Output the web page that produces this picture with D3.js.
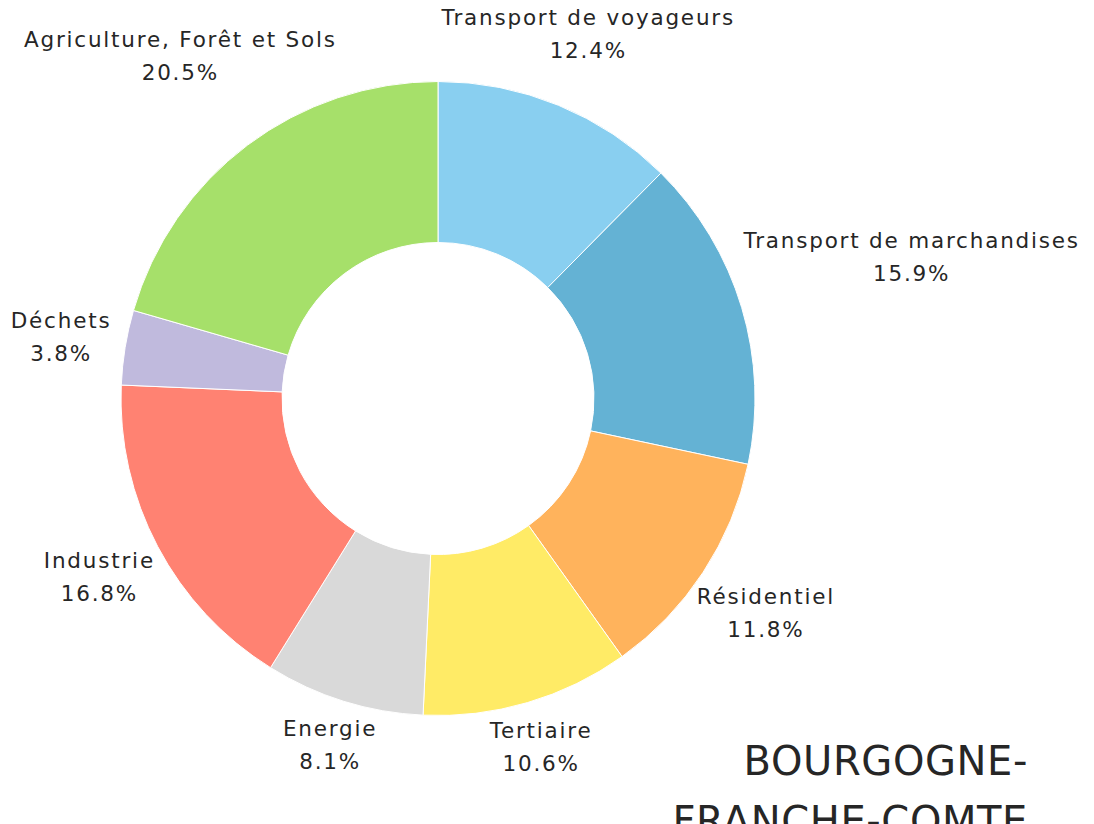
<!DOCTYPE html>
<html>
<head>
<meta charset="utf-8">
<script src="https://cdn.jsdelivr.net/npm/d3@7"></script>
<style>
  body { margin: 0; background: #fff; overflow: hidden; }
  text { font-family: "DejaVu Sans", sans-serif; fill: #262626; }
</style>
</head>
<body>
<script>
const width = 1094;
const height = 824;

const categories = [
  "Transport de voyageurs",
  "Transport de marchandises",
  "Résidentiel",
  "Tertiaire",
  "Energie",
  "Industrie",
  "Déchets",
  "Agriculture, Forêt et Sols"
];
const values = [12.4, 15.9, 11.8, 10.6, 8.1, 16.8, 3.8, 20.5];
const colors = ["#89cff0", "#64b2d4", "#ffb35c", "#ffeb66", "#d9d9d9", "#ff8272", "#c0badd", "#a6e06a"];
const titleLines = ["BOURGOGNE-", "FRANCHE-COMTE"];

const cx = 438, cy = 398.5;
const outerR = 317, innerR = 156;

const svg = d3.select("body")
  .append("svg")
  .attr("width", width)
  .attr("height", height);

const data = categories.map((c, i) => ({ name: c, value: values[i], color: colors[i] }));

const pie = d3.pie()
  .value(d => d.value)
  .sort(null);

const arc = d3.arc()
  .innerRadius(innerR)
  .outerRadius(outerR);

const arcs = pie(data);

const g = svg.append("g")
  .attr("transform", `translate(${cx},${cy})`);

g.selectAll("path")
  .data(arcs)
  .enter()
  .append("path")
  .attr("d", arc)
  .attr("fill", d => d.data.color)
  .attr("stroke", "#fff")
  .attr("stroke-width", 1);

// labels sit on the mid-angle ray, pushed out by the size of their box
const labels = g.selectAll(".label")
  .data(arcs)
  .enter()
  .append("text")
  .attr("class", "label")
  .attr("text-anchor", "middle")
  .style("font-size", "21.5px")
  .style("letter-spacing", "1.8px");

labels.append("tspan")
  .attr("x", 0)
  .attr("dy", 0)
  .text(d => d.data.name);

labels.append("tspan")
  .attr("x", 0)
  .attr("dy", 33)
  .text(d => d.data.value.toFixed(1) + "%");

labels.each(function(d) {
  const bb = this.getBBox();
  const a = (d.startAngle + d.endAngle) / 2;
  const s = Math.sin(a), c = -Math.cos(a);
  const hw = bb.width / 2, hh = bb.height / 2;
  const r = outerR + 15 + Math.sqrt((hw * s) ** 2 + (hh * c) ** 2);
  const px = r * s, py = r * c;
  const boxCx = bb.x + bb.width / 2;
  const boxCy = bb.y + bb.height / 2;
  d3.select(this).attr("transform", `translate(${px - boxCx},${py - boxCy})`);
});

svg.append("text")
  .attr("text-anchor", "end")
  .style("font-size", "40px")
  .style("letter-spacing", "0.6px")
  .selectAll("tspan")
  .data(titleLines)
  .enter()
  .append("tspan")
  .attr("x", 1028)
  .attr("y", (d, i) => 775 + i * 60)
  .text(d => d);
</script>
</body>
</html>
